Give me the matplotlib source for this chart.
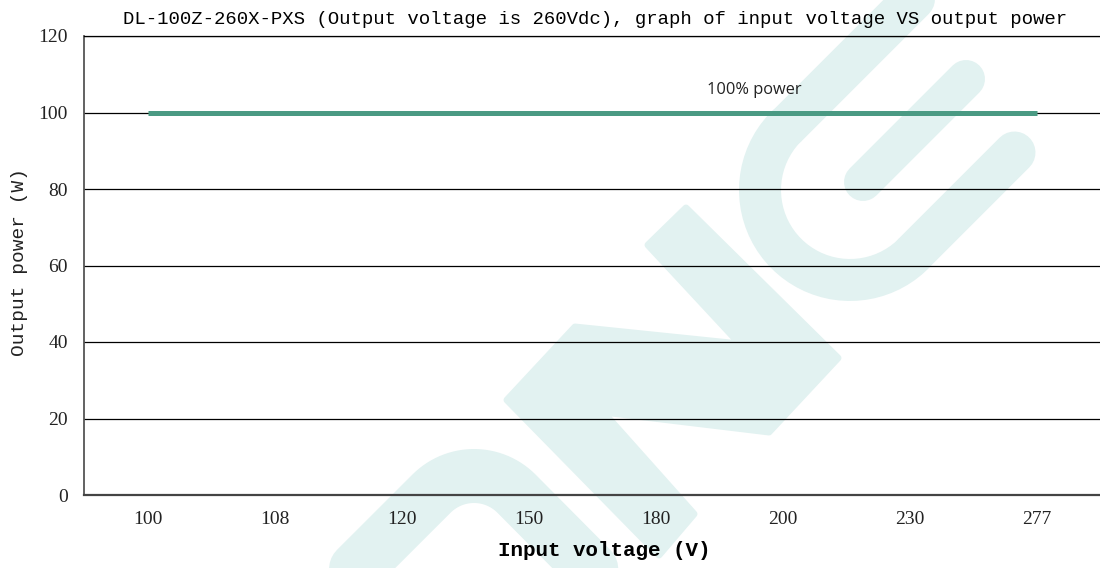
import numpy as np
import matplotlib.pyplot as plt
from matplotlib.patches import Polygon

# data
voltages = ['100', '108', '120', '150', '180', '200', '230', '277']
power = [100, 100, 100, 100, 100, 100, 100, 100]
y_ticks = [0, 20, 40, 60, 80, 100, 120]

title = 'DL-100Z-260X-PXS (Output voltage is 260Vdc), graph of input voltage VS output power'

fig = plt.figure(figsize=(11, 5.68), dpi=100)

# watermark layer (pixel coords, y down)
wm = fig.add_axes([0, 0, 1, 1], zorder=-1)
wm.set_xlim(0, 1100)
wm.set_ylim(568, 0)
wm.axis('off')
wm_color = '#e2f2f1'


def stroke(xs, ys, w):
    wm.plot(xs, ys, color=wm_color, lw=w * 0.72,
            solid_capstyle='round', solid_joinstyle='round')


def su(s, u):
    return (s + u) / 2.0, (s - u) / 2.0


# "O"
t = np.radians(np.linspace(225, 315, 30))
ox = np.concatenate([[325], 474 + 60 * np.cos(t), [622]])
oy = np.concatenate([[600], 536 + 60 * np.sin(t), [600]])
stroke(ox, oy, 54)

# "N"
wm.add_patch(Polygon([(575, 327), (740, 344), (648, 245), (686, 208),
                      (838, 358), (769, 432), (603, 412), (694, 514),
                      (659, 555), (507, 400)],
                     closed=True, facecolor=wm_color, edgecolor=wm_color,
                     lw=5, joinstyle='round'))

# "E"
u1 = np.linspace(960, 660, 10)
x1, y1 = su(913, u1)
t = np.radians(np.linspace(225, 45, 40))
xa = 850 + 90 * np.cos(t)
ya = 190 + 90 * np.sin(t)
u2 = np.linspace(660, 862, 10)
x2, y2 = su(1167, u2)
stroke(np.concatenate([x1, xa, x2]), np.concatenate([y1, ya, y2]), 42)
bx, by = su(1045, np.array([681, 887]))
stroke(bx, by, 38)

# main chart
ax = fig.add_axes([84 / 1100, 73 / 568, 1016 / 1100, 459 / 568])
ax.patch.set_facecolor('none')

x = np.arange(len(voltages))
ax.plot(x, power, color='#4a9a83', lw=3.6, solid_capstyle='butt', zorder=3)

ax.set_xlim(-0.5, len(voltages) - 0.5)
ax.set_ylim(0, 120)
ax.set_xticks(x)
ax.set_xticklabels(voltages)
ax.set_yticks(y_ticks)
ax.grid(axis='y', color='black', lw=0.9)
ax.set_axisbelow(True)
ax.tick_params(length=0, labelsize=14, labelcolor='#222222')
ax.tick_params(axis='y', pad=11.5)
ax.tick_params(axis='x', pad=11.5)
for lab in ax.get_xticklabels() + ax.get_yticklabels():
    lab.set_family('Liberation Serif')

ax.spines['right'].set_visible(False)
ax.spines['top'].set_color('black')
ax.spines['top'].set_linewidth(0.9)
ax.spines['left'].set_color('#555555')
ax.spines['left'].set_linewidth(1.3)
ax.spines['bottom'].set_color('#444444')
ax.spines['bottom'].set_linewidth(1.6)

ax.text(4.78, 105.8, '100% power', ha='center', va='center',
        fontsize=11.8, family='Open Sans', color='#222222')

fig.text(595 / 1100, 1 - 20 / 568, title, ha='center', va='center',
         family='Liberation Mono', fontsize=13.7, color='black')
fig.text(604 / 1100, 1 - 551 / 568, 'Input voltage (V)', ha='center', va='center',
         family='Liberation Mono', fontsize=15, fontweight='bold', color='black')
fig.text(20 / 1100, 1 - 262 / 568, 'Output power (W)', ha='center', va='center',
         rotation=90, family='Liberation Mono', fontsize=14, color='#222222')

fig.savefig('out.png', dpi=100)
